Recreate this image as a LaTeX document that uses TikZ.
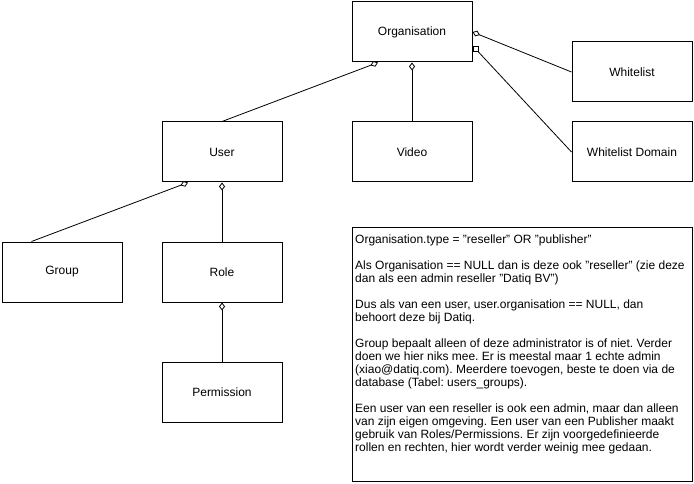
\documentclass[tikz,border=0pt]{standalone}
\usepackage{fontspec}
\setmainfont{Liberation Sans}
\usepackage{tikz}
\usetikzlibrary{arrows.meta,positioning}
\frenchspacing

\begin{document}
\begin{tikzpicture}[
        x=1pt, y=-1pt,
        entity/.style={rectangle, draw=black, line width=1pt, fill=white, minimum width=120pt, minimum height=60pt, font=\fontsize{12}{14}\selectfont},
        notebox/.style={rectangle, draw=black, line width=1pt, minimum width=340pt, minimum height=254pt, anchor=north west},
        notetext/.style={anchor=north west, align=left, inner sep=0pt, font=\fontsize{12}{13}\selectfont},
        sqmark/.style={rectangle, draw=black, line width=0.8pt, fill=white, inner sep=0pt, minimum size=5pt},
        link/.style={line width=0.8pt},
        has/.style={{Diamond[open,length=8pt,width=6pt]}-}
    ]
        \useasboundingbox (0,0) rectangle (694,484);

        % Entity nodes
        \node[entity] (Organisation) at (412,32) {Organisation};
        \node[entity] (Whitelist) at (632,72) {Whitelist};
        \node[entity] (WhitelistDomain) at (632,152) {Whitelist Domain};
        \node[entity] (User) at (222,152) {User};
        \node[entity] (Video) at (412,152) {Video};
        \node[entity] (Group) at (62,272) {Group};
        \node[entity] (Role) at (222,272) {Role};
        \node[entity] (Permission) at (222,392) {Permission};

        % Note
        \node[notebox] (note) at (352,227) {};
        \node[notetext] (notetxt) at (355,235) {%
            Organisation.type = "reseller" OR "publisher"\\[13pt]
            Als Organisation == NULL dan is deze ook "reseller" (zie deze\\
            dan als een admin reseller "Datiq BV")\\[13pt]
            Dus als van een user, user.organisation == NULL, dan\\
            behoort deze bij Datiq.\\[13pt]
            Group bepaalt alleen of deze administrator is of niet. Verder\\
            doen we hier niks mee. Er is meestal maar 1 echte admin\\
            (xiao@datiq.com). Meerdere toevogen, beste te doen via de\\
            database (Tabel: users\_groups).\\[13pt]
            Een user van een reseller is ook een admin, maar dan alleen\\
            van zijn eigen omgeving. Een user van een Publisher maakt\\
            gebruik van Roles/Permissions. Er zijn voorgedefinieerde\\
            rollen en rechten, hier wordt verder weinig mee gedaan.};

        % Edges
        \node[sqmark] (sq) at ([xshift=3pt,yshift=-17pt]Organisation.east) {};
        \draw[link, has] ([xshift=-34pt]Organisation.south) -- (User.north);
        \draw[link, has] (Organisation.south) -- (Video.north);
        \draw[link, has] (Organisation.east) -- (Whitelist.west);
        \draw[link] (sq.south east) -- (WhitelistDomain.west);
        \draw[link, has] ([xshift=-34pt]User.south) -- (Group.135);
        \draw[link, has] (User.south) -- (Role.north);
        \draw[link, has] (Role.south) -- (Permission.north);
    \end{tikzpicture}
\end{document}
